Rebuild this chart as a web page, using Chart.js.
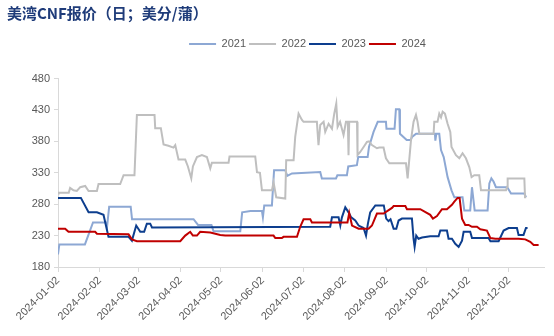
<!DOCTYPE html>
<html><head><meta charset="utf-8">
<script src="https://cdn.jsdelivr.net/npm/chart.js@4"></script>
<style>html,body{margin:0;padding:0;background:#fff}</style>
</head><body>
<canvas id="c" width="554" height="336"></canvas>
<script>
// x = days since 2024-01-02 (date axis), y = US cents / bushel
const titleText = '美湾CNF报价（日；美分/蒲）';
const seriesNames = ['2021', '2022', '2023', '2024'];
const tickDays = [0, 31, 60, 91, 121, 152, 182, 213, 244, 274, 305, 335];
const tickLabels = ['2024-01-02','2024-02-02','2024-03-02','2024-04-02','2024-05-02','2024-06-02','2024-07-02','2024-08-02','2024-09-02','2024-10-02','2024-11-02','2024-12-02'];
const yTicks = [180, 230, 280, 330, 380, 430, 480];

const s2021 = [[0,200],[1,216],[20,216],[26,251],[36,251],[36.5,245],[38,276],[54,276],[55,256],[100.7,256],[104,247],[114,247],[115.5,237],[135.4,237],[136.8,267],[143,269],[151.5,269],[152.2,259],[153.2,278],[158.9,278],[160.5,334],[168.8,334],[170.3,325],[173.8,329],[194.8,331],[196,321],[206.5,321],[207.5,326],[214.6,326],[215.6,340],[222,342],[223,355],[230,355],[231,371],[234.4,395],[237.5,411],[243.6,411],[244,400],[250,400],[251,431],[253.5,431],[254,392],[259,382],[262,382],[263,387],[266,392],[280,392],[280.3,381],[281,392],[283.2,392],[284.5,366],[286.5,355],[289.4,323],[292.3,302],[294.4,291],[300.5,291],[301.8,270],[306.2,270],[307.5,307],[309.5,270],[319.1,270],[320.4,313],[321.9,321],[323.5,316],[325.3,307],[333.7,307],[336.5,297],[346.4,297],[347.6,291]];
const s2022 = [[0,297],[0.5,298],[8,298],[9,306],[11.5,302],[14,301],[16.5,307],[20.2,309],[22.7,301],[28.9,301],[30.1,312],[46.2,312],[48.7,326],[56.8,326],[58.6,422],[71.7,422],[72.2,401],[76.4,401],[78.4,375],[82,373],[85.8,370],[87.1,374],[89.5,351],[94.5,351],[96.5,340],[99,321],[100.2,340],[103.2,355],[106.9,358],[110.6,355],[113.1,337],[114.3,346],[126.7,346],[127.4,356],[146.5,356],[147.8,331],[150,330],[151.5,302],[158.9,302],[160.1,315],[162.1,291],[168.8,289],[169.5,350],[175,350],[176.2,387],[178.7,424],[181.2,414],[182.4,411],[192.3,411],[193.5,374],[194.8,406],[197.3,411],[198.5,395],[201,408],[203.5,400],[205.2,424],[206.7,440],[207.7,403],[209.5,411],[212.1,390],[213.9,411],[215.3,411],[215.8,358],[216.3,411],[222.1,411],[222.5,358],[224.5,363],[227,371],[229.5,379],[231,380],[233.2,374],[236.9,369],[238.6,370],[241.8,370],[243.6,353],[246.1,345],[258.5,345],[259.7,321],[262.2,382],[264.1,411],[265.9,422],[267.1,411],[268.4,392],[279,392],[279.5,411],[281.9,411],[283.2,424],[284.5,418],[285.7,427],[287.4,424],[289.4,408],[291.4,395],[292.3,371],[295.6,358],[298.1,353],[300.5,361],[303,353],[305.5,339],[307.2,323],[309.2,326],[312.9,326],[314.2,302],[332.8,302],[333.7,308],[334,321],[346.4,321],[346.9,291],[347.8,291]];
const s2023 = [[0,290],[17,290],[22.7,267],[28.9,267],[33.8,263],[37.5,228],[52.4,228],[54.9,222],[58.1,246],[61.1,236],[64,236],[66,249],[68.5,249],[69.8,243],[202.2,244],[203.5,259],[208.4,259],[209.7,246],[210.9,259],[213.4,275],[215.8,267],[217.8,259],[220.8,254],[223.3,246],[227,242],[228.8,230],[230.2,249],[231.9,267],[235.7,278],[242,278],[243.8,257],[245.5,253],[247,256],[249.3,241],[251.3,241],[253,254],[255.5,257],[262.9,257],[264.1,225],[264.9,212],[266.1,230],[267.8,225],[270.4,227],[276.5,229],[282.7,229],[284,238],[288.9,238],[290.1,225],[292.6,225],[295.1,217],[297.6,212],[300.1,222],[301.3,236],[306.2,236],[307.5,226],[319.8,226],[321.2,221],[327.3,221],[331,238],[334.7,242],[340.9,242],[342.1,231],[345.8,231],[347.6,242],[348.8,242]];
const s2024 = [[0,241],[5.3,241],[7.8,236],[27.6,236],[28.9,233],[52.4,232],[54.9,224],[58.6,221],[90.8,221],[94.5,230],[98.2,236],[100.2,230],[103.2,230],[105.6,236],[113.1,235],[120.5,231],[124.2,230],[160.1,230],[161.4,226],[166.3,226],[167.5,228],[177.5,228],[179.9,244],[182.4,256],[187.4,256],[188.6,251],[215,251],[216.3,266],[218.4,246],[223.3,241],[230.7,241],[233.2,246],[236.9,265],[241.8,265],[248.1,274],[249.3,277],[258,277],[259.2,272],[269.1,272],[276.5,263],[278.5,257],[281.5,261],[285.2,272],[288.9,272],[292.6,279],[294.4,284],[296.8,290],[298.3,290],[300.1,257],[302.5,247],[305,247],[307.5,244],[311.2,244],[313.7,240],[318.6,238],[321.2,226],[324.8,225],[342.1,225],[347.1,224],[350.8,220],[353.3,215],[357,215]];

const seriesData = [s2021, s2022, s2023, s2024];
const colors = ['#8DA8D4', '#BFBFBF', '#0D3E8E', '#C00000'];

const datasets = seriesNames.map((name, i) => ({
  label: name,
  data: seriesData[i].map(p => ({x: p[0], y: p[1]})),
  borderColor: colors[i],
  backgroundColor: colors[i],
  borderWidth: 2,
  pointRadius: 0,
  tension: 0,
  order: 4 - i
}));

const FONT = '"Liberation Sans", Arial, sans-serif';

const legendSpacing = {
  id: 'legendSpacing',
  beforeInit(chart) {
    const fit = chart.legend.fit;
    chart.legend.fit = function () { fit.call(this); this.height += 19; };
  },
  afterLayout(chart) {
    chart.legend.left += 32;
    chart.legend.right += 32;
  }
};

new Chart(document.getElementById('c'), {
  type: 'line',
  data: { datasets },
  plugins: [legendSpacing],
  options: {
    responsive: false,
    animation: false,
    devicePixelRatio: 1,
    layout: { padding: { top: 4, left: 7, right: 10, bottom: 0 } },
    plugins: {
      title: {
        display: true, text: titleText, align: 'start', color: '#1F3C7A',
        font: { family: '"Noto Sans CJK SC", sans-serif', size: 15, weight: 'bold', lineHeight: 1.2 },
        padding: { top: 0, bottom: 13.5 }
      },
      legend: {
        position: 'top', align: 'center',
        labels: {
          usePointStyle: true, pointStyle: 'line', pointStyleWidth: 27,
          boxHeight: 11, padding: 3, color: '#595959',
          font: { family: FONT, size: 11 },
          sort: (a, b) => a.datasetIndex - b.datasetIndex
        }
      },
      tooltip: { enabled: false }
    },
    scales: {
      x: {
        type: 'linear', min: 0, max: 361,
        afterBuildTicks: s => { s.ticks = tickDays.map(v => ({ value: v })); },
        afterFit: s => { s.height = 69; },
        grid: { display: true, drawOnChartArea: false, drawTicks: true, tickLength: 5, color: '#D9D9D9' },
        border: { color: '#D9D9D9' },
        ticks: {
          autoSkip: false, minRotation: 45, maxRotation: 45, padding: 2, color: '#595959',
          font: { family: FONT, size: 11 },
          callback: (v) => { const k = tickDays.indexOf(v); return k >= 0 ? tickLabels[k] : ''; }
        }
      },
      y: {
        min: 180, max: 480,
        afterBuildTicks: s => { s.ticks = yTicks.map(v => ({ value: v })); },
        afterFit: s => { s.width = 51; },
        grid: { display: true, drawOnChartArea: false, drawTicks: true, tickLength: 4, color: '#D9D9D9' },
        border: { color: '#D9D9D9' },
        ticks: { padding: 4, color: '#595959', font: { family: FONT, size: 11 } }
      }
    }
  }
});
</script>
</body></html>
